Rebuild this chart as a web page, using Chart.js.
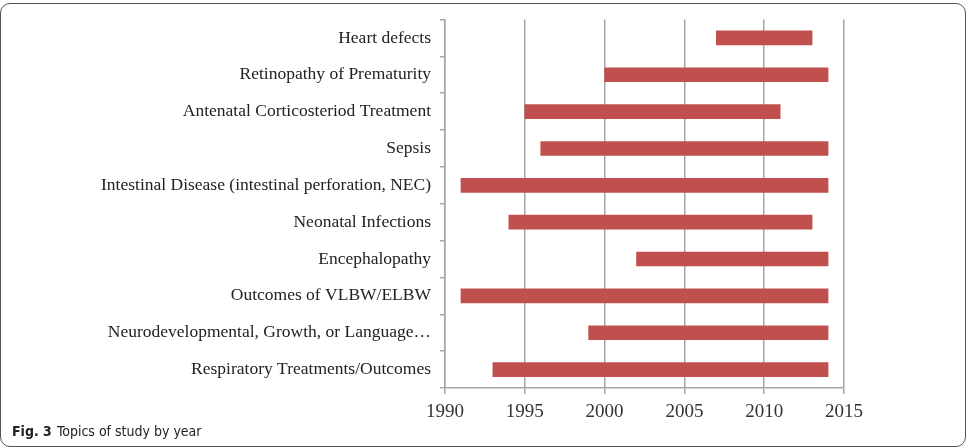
<!DOCTYPE html>
<html>
<head>
<meta charset="utf-8">
<script src="https://cdn.jsdelivr.net/npm/chart.js@4.4.0/dist/chart.umd.min.js"></script>
<style>
    body { margin: 0; background: #fff; }
    #moldura {
        position: absolute; left: 0; top: 3px; width: 964px; height: 442px;
        border: 1.5px solid #555; border-radius: 10px;
    }
    #grafico { position: absolute; left: 0; top: 0; }
    #legenda {
        position: absolute; left: 12px; top: 423px;
        font-family: 'DejaVu Sans Condensed', sans-serif;
        font-size: 14px; color: #222;
    }
    #legenda b { margin-right: 5px; }
</style>
</head>
<body>
<div id="moldura"></div>
<canvas id="grafico" width="969" height="448"></canvas>
<div id="legenda"><b>Fig. 3</b>Topics of study by year</div>
<script>
let topicos = [
    'Heart defects',
    'Retinopathy of Prematurity',
    'Antenatal Corticosteriod Treatment',
    'Sepsis',
    'Intestinal Disease (intestinal perforation, NEC)',
    'Neonatal Infections',
    'Encephalopathy',
    'Outcomes of VLBW/ELBW',
    'Neurodevelopmental, Growth, or Language…',
    'Respiratory Treatments/Outcomes'
];
let anoInicio = [2007, 2000, 1995, 1996, 1991, 1994, 2002, 1991, 1999, 1993];
let anoFim = [2013, 2014, 2011, 2014, 2014, 2013, 2014, 2014, 2014, 2014];
let anosEixo = [1990, 1995, 2000, 2005, 2010, 2015];

let intervalos = topicos.map((t, i) => [anoInicio[i], anoFim[i]]);
let cinza = '#a6a6a6';

const ctx = document.getElementById('grafico');
new Chart(ctx, {
    type: 'bar',
    data: {
        labels: topicos,
        datasets: [{
            data: intervalos,
            backgroundColor: '#c0504d',
            borderWidth: 0,
            barThickness: 14
        }]
    },
    options: {
        indexAxis: 'y',
        responsive: false,
        animation: false,
        layout: { padding: { left: 0, right: 125, top: 16, bottom: 20 } },
        plugins: { legend: { display: false }, tooltip: { enabled: false } },
        scales: {
            x: {
                min: anosEixo[0],
                max: anosEixo[anosEixo.length - 1],
                afterBuildTicks: (s) => { s.ticks = anosEixo.map(v => ({ value: v })); },
                afterFit: (s) => { s.height = 40; },
                grid: { color: cinza, lineWidth: 1.5, tickLength: 6 },
                border: { color: cinza, width: 1.5 },
                ticks: {
                    color: '#333',
                    padding: 7,
                    callback: (v) => String(v),
                    font: { family: "'Liberation Serif', serif", size: 19 }
                }
            },
            y: {
                afterFit: (s) => { s.width = 445; },
                grid: { offset: true, drawOnChartArea: false, color: cinza, lineWidth: 1.5, tickLength: 5 },
                border: { color: cinza, width: 1.5 },
                ticks: {
                    color: '#222',
                    padding: 9,
                    autoSkip: false,
                    font: { family: "'Liberation Serif', serif", size: 17.5 }
                }
            }
        }
    }
});
</script>
</body>
</html>
